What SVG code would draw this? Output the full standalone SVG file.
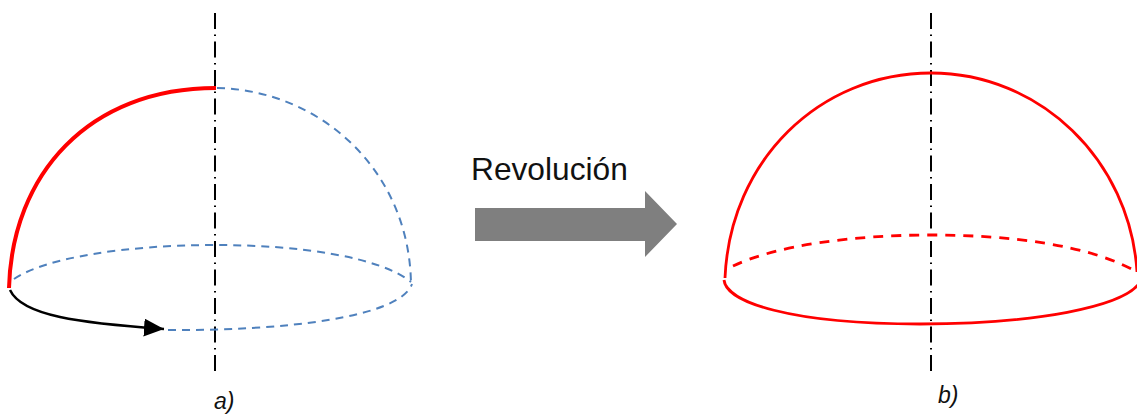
<svg xmlns="http://www.w3.org/2000/svg" width="1137" height="414" viewBox="0 0 1137 414">
<style>
.axis{fill:none;stroke:#000;stroke-width:2;stroke-dasharray:16 5.5 1.5 5.5}
.blue{fill:none;stroke:#4f81bd;stroke-width:2;stroke-dasharray:8 6}
.red{fill:none;stroke:#f00;stroke-width:2.8}
.dash{stroke-dasharray:10 8}
.thick{stroke-width:4}
.label{font-family:"Liberation Sans",Arial,sans-serif;fill:#111}
.it{font-size:23px;font-style:italic}
</style>
<defs>
<marker id="tip" markerUnits="userSpaceOnUse" markerWidth="21" markerHeight="20" refX="20" refY="9" orient="auto"><path d="M0 0L20 9L0 18Z" fill="#000"/></marker>
</defs>
<g id="connectors">
<path class="axis" d="M215 13V373"/>
<path class="axis" d="M931 13V373"/>
</g>
<g id="hemisphere-a">
<path class="blue" d="M14 279C45 258 125 245 215 245C300 245 380 257 411 282"/>
<path class="blue" d="M168 330C280 331 400 318 412 284"/>
<path class="blue" d="M217 88C320 90 410 170 411 285"/>
<path class="red thick" d="M9 288C12 175 88 88 216 88"/>
<path fill="none" stroke="#000" stroke-width="2.5" marker-end="url(#tip)" d="M10 290C22 316 80 323 164 329"/>
</g>
<g id="hemisphere-b">
<path class="red dash" d="M733 266C775 246 850 235 931 235C1010 235 1090 245 1137 272"/>
<path class="red" d="M725 278C730 160 820 73 931 73C1040 73 1130 160 1137 272"/>
<path class="red" d="M724 280C726 302 790 324 920 324C1040 324 1120 306 1138 285"/>
</g>
<g id="revolution-arrow">
<path fill="#7f7f7f" d="M475 208H645V191L677 224L645 257V241H475Z"/>
<text class="label" x="471" y="180" font-size="31.7">Revolución</text>
</g>
<g id="labels">
<text class="label it" x="214" y="409">a)</text>
<text class="label it" x="938" y="403">b)</text>
</g>
</svg>
